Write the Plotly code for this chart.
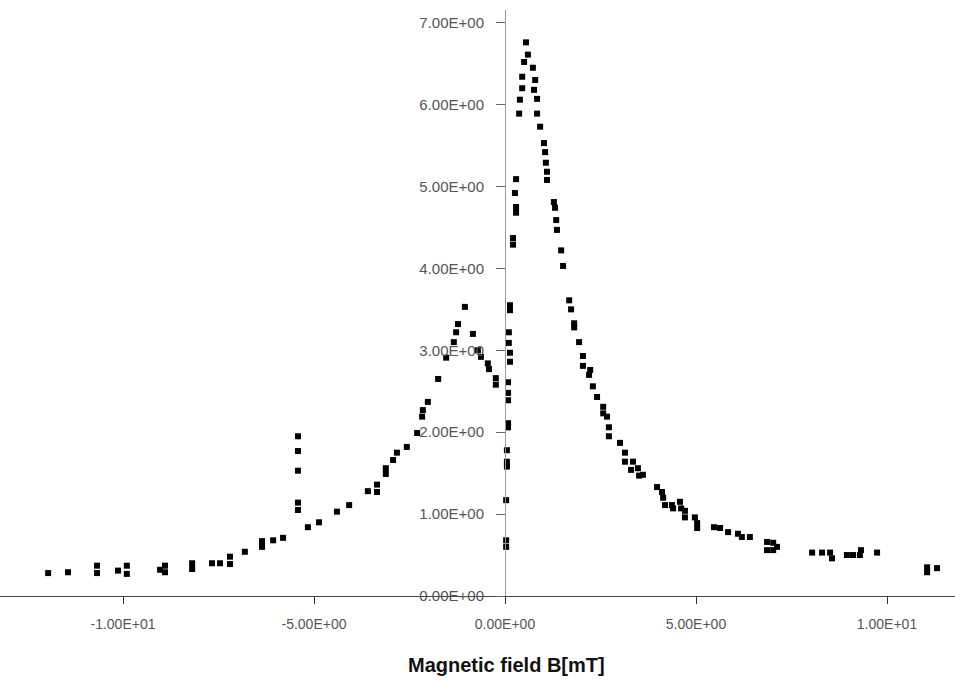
import plotly.graph_objects as go

# Magnetic field B [mT]
field = [
    -11.96, -11.44, -10.68, -10.68, -10.13, -9.90, -9.90, -9.03, -8.90, -8.90,
    -8.19, -8.19, -7.67, -7.46, -7.20, -7.20, -6.81, -6.36, -6.36, -6.07,
    -5.81, -5.42, -5.42, -5.42, -5.42, -5.42, -5.16, -4.87, -4.40, -4.08,
    -3.59, -3.35, -3.35, -3.12, -3.12, -2.93, -2.83, -2.57, -2.30, -2.17,
    -2.15, -2.02, -1.75, -1.54, -1.34, -1.28, -1.23, -1.05, -0.84, -0.71,
    -0.63, -0.45, -0.42, -0.24, -0.24,
    0.03, 0.03, 0.03, 0.05, 0.05, 0.05, 0.08, 0.08, 0.08, 0.08,
    0.08, 0.13, 0.13, 0.10, 0.10, 0.13, 0.13, 0.21, 0.21, 0.29,
    0.29, 0.26, 0.29, 0.37, 0.39, 0.45, 0.45, 0.50, 0.60, 0.55,
    0.73, 0.79, 0.76, 0.84, 0.84, 0.92, 1.02, 1.05, 1.07, 1.10,
    1.10, 1.28, 1.31, 1.34, 1.36, 1.47, 1.52, 1.68, 1.73, 1.81,
    1.81, 1.94, 2.04, 2.04, 2.23, 2.20, 2.30, 2.41, 2.57, 2.57,
    2.67, 2.72, 2.72, 3.01, 3.14, 3.14, 3.35, 3.30, 3.48, 3.51,
    3.61, 3.98, 4.11, 4.14, 4.19, 4.37, 4.40, 4.58, 4.61, 4.71,
    4.71, 4.97, 5.03, 5.03, 5.47, 5.63, 5.84, 6.10, 6.20, 6.41,
    6.86, 6.86, 7.02, 7.02, 7.12, 8.04, 8.30, 8.51, 8.56, 8.95,
    9.11, 9.29, 9.32, 9.74, 11.05, 11.05, 11.31,
]

# Measured signal
signal = [
    0.28, 0.29, 0.37, 0.28, 0.31, 0.37, 0.27, 0.32, 0.37, 0.29,
    0.40, 0.33, 0.40, 0.40, 0.48, 0.39, 0.54, 0.67, 0.60, 0.68,
    0.71, 1.95, 1.77, 1.53, 1.14, 1.05, 0.84, 0.90, 1.03, 1.11,
    1.28, 1.36, 1.27, 1.56, 1.49, 1.66, 1.75, 1.82, 1.99, 2.19,
    2.27, 2.37, 2.65, 2.91, 3.10, 3.22, 3.32, 3.53, 3.20, 3.00,
    2.92, 2.84, 2.77, 2.66, 2.58,
    0.60, 0.68, 1.17, 1.58, 1.64, 1.78, 2.06, 2.11, 2.39, 2.48,
    2.61, 2.86, 2.97, 3.09, 3.22, 3.49, 3.55, 4.29, 4.37, 4.68,
    4.75, 4.92, 5.09, 5.89, 6.06, 6.20, 6.34, 6.52, 6.61, 6.76,
    6.45, 6.30, 6.18, 6.07, 5.89, 5.73, 5.53, 5.42, 5.29, 5.18,
    5.08, 4.81, 4.74, 4.59, 4.47, 4.22, 4.03, 3.61, 3.50, 3.33,
    3.28, 3.10, 2.93, 2.81, 2.76, 2.70, 2.56, 2.43, 2.31, 2.23,
    2.19, 2.06, 1.95, 1.87, 1.75, 1.64, 1.64, 1.54, 1.56, 1.47,
    1.48, 1.33, 1.27, 1.20, 1.11, 1.11, 1.07, 1.15, 1.07, 1.04,
    0.96, 0.96, 0.89, 0.83, 0.84, 0.83, 0.78, 0.76, 0.72, 0.72,
    0.66, 0.56, 0.65, 0.56, 0.60, 0.53, 0.53, 0.53, 0.46, 0.50,
    0.50, 0.50, 0.56, 0.53, 0.29, 0.35, 0.34,
]

x_tick_vals = [-10, -5, 0, 5, 10]
x_tick_text = ["-1.00E+01", "-5.00E+00", "0.00E+00", "5.00E+00", "1.00E+01"]
y_tick_vals = [0, 1, 2, 3, 4, 5, 6, 7]
y_tick_text = ["0.00E+00", "1.00E+00", "2.00E+00", "3.00E+00",
               "4.00E+00", "5.00E+00", "6.00E+00", "7.00E+00"]
x_title = "Magnetic field B[mT]"

FONT = "Liberation Sans, Arial, sans-serif"

fig = go.Figure(
    go.Scatter(
        x=field, y=signal, mode="markers",
        marker=dict(symbol="square", size=6, color="black"),
        showlegend=False,
    )
)

fig.update_layout(
    width=955, height=681,
    margin=dict(l=0, r=0, t=10, b=85),
    paper_bgcolor="white", plot_bgcolor="white",
    font=dict(family=FONT, color="#444"),
    xaxis=dict(
        range=[-13.22, 11.78],
        automargin=False,
        tickvals=x_tick_vals, ticktext=x_tick_text,
        tickfont=dict(size=14, color="#555"),
        ticks="outside", ticklen=7, tickcolor="#333",
        ticklabelstandoff=8,
        showline=True, linecolor="#444", linewidth=1,
        showgrid=False, zeroline=False,
    ),
    yaxis=dict(
        range=[0, 7.155],
        automargin=False,
        anchor="free", position=0.5288,
        tickvals=y_tick_vals, ticktext=y_tick_text,
        tickfont=dict(size=15, color="#555"),
        ticks="outside", ticklen=9, tickcolor="#666",
        ticklabelstandoff=9,
        showline=True, linecolor="#999", linewidth=1,
        showgrid=False, zeroline=False,
    ),
    annotations=[
        dict(text="<b>" + x_title + "</b>", xref="x", x=0.05,
             yref="paper", y=0, yanchor="top", yshift=-56,
             showarrow=False,
             font=dict(size=20, color="#111", family=FONT)),
    ],
)

fig.write_html("out.html",
               config={"displayModeBar": False},
               post_script="document.body.style.margin='0';")
